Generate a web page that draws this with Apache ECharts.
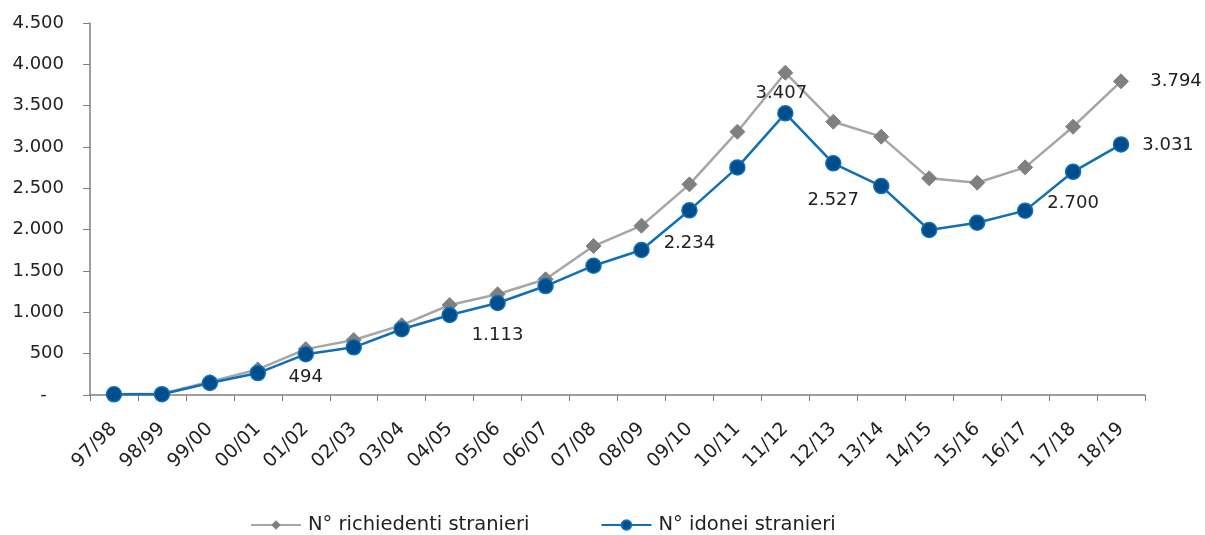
<!DOCTYPE html>
<html>
<head>
<meta charset="utf-8">
<script src="https://cdn.jsdelivr.net/npm/echarts@6/dist/echarts.min.js"></script>
<style>
  html, body { margin: 0; padding: 0; background: #fff; }
  #chart { width: 1205px; height: 535px; }
</style>
</head>
<body>
<div id="chart"></div>
<script>
// anni accademici
const categories = ['97/98', '98/99', '99/00', '00/01', '01/02', '02/03', '03/04', '04/05', '05/06', '06/07', '07/08',
  '08/09', '09/10', '10/11', '11/12', '12/13', '13/14', '14/15', '15/16', '16/17', '17/18', '18/19'];
const richiedenti = [10, 15, 160, 310, 555, 665, 845, 1089, 1218, 1400, 1802,
  2048, 2548, 3185, 3899, 3306, 3125, 2621, 2568, 2754, 3245, 3794];
const idonei = [8, 10, 145, 265, 494, 577, 795, 968, 1113, 1318, 1564,
  1754, 2234, 2753, 3407, 2802, 2527, 1996, 2084, 2230, 2700, 3031];
const yTicks = [0, 500, 1000, 1500, 2000, 2500, 3000, 3500, 4000, 4500];

// quali punti hanno l'etichetta, e dove
const idoneiLabels = { 4: [0, 23], 8: [0, 32], 12: [0, 33], 14: [-4, -20], 16: [-48, 14], 20: [0, 32], 21: [47, 1] };
const richiedentiLabels = { 21: [55, 0] };

const FONT = 'DejaVu Sans';

function fmt(v) {
  return String(v).replace(/\B(?=(\d{3})+(?!\d))/g, '.');
}

function withLabels(values, labels) {
  return values.map((v, i) => {
    if (!labels[i]) return v;
    return {
      value: v,
      label: { show: true, position: 'inside', offset: labels[i], formatter: p => fmt(p.value) }
    };
  });
}

const chart = echarts.init(document.getElementById('chart'));
chart.setOption({
  animation: false,
  textStyle: { fontFamily: FONT },
  grid: { left: 90, right: 60, top: 23, bottom: 140 },
  legend: {
    left: 250,
    top: 515,
    padding: 0,
    itemWidth: 50,
    itemHeight: 12,
    itemGap: 71,
    textStyle: { fontFamily: FONT, fontSize: 19.5, color: '#222', padding: [0, 0, 0, 2] },
    data: ['N° richiedenti stranieri', 'N° idonei stranieri']
  },
  xAxis: {
    type: 'category',
    data: categories,
    boundaryGap: true,
    axisLine: { lineStyle: { color: '#7f7f7f', width: 1.5 } },
    axisTick: { show: true, length: 6, lineStyle: { color: '#7f7f7f' } },
    axisLabel: { rotate: 45, fontSize: 19, color: '#222', fontFamily: FONT, margin: 31, interval: 0 }
  },
  yAxis: {
    type: 'value',
    min: yTicks[0],
    max: yTicks[yTicks.length - 1],
    interval: 500,
    splitLine: { show: false },
    axisLine: { show: true, lineStyle: { color: '#7f7f7f', width: 1.5 } },
    axisTick: { show: true, inside: false, length: 7, lineStyle: { color: '#7f7f7f' } },
    axisLabel: {
      fontSize: 18,
      color: '#222',
      fontFamily: FONT,
      margin: 26,
      formatter: v => (v === 0 ? '-   ' : fmt(v))
    }
  },
  series: [
    {
      name: 'N° richiedenti stranieri',
      type: 'line',
      data: withLabels(richiedenti, richiedentiLabels),
      symbol: 'diamond',
      symbolSize: 15,
      lineStyle: { color: '#a6a6a6', width: 2.5 },
      itemStyle: { color: '#808080', borderColor: '#808080' },
      label: { fontSize: 18, color: '#222', fontFamily: FONT },
      z: 2
    },
    {
      name: 'N° idonei stranieri',
      type: 'line',
      data: withLabels(idonei, idoneiLabels),
      symbol: 'circle',
      symbolSize: 15,
      lineStyle: { color: '#0f6fb8', width: 2.5 },
      itemStyle: { color: '#004d8c', borderColor: '#0f6fb8', borderWidth: 1.5 },
      label: { fontSize: 18, color: '#222', fontFamily: FONT },
      z: 3
    }
  ]
});
</script>
</body>
</html>
